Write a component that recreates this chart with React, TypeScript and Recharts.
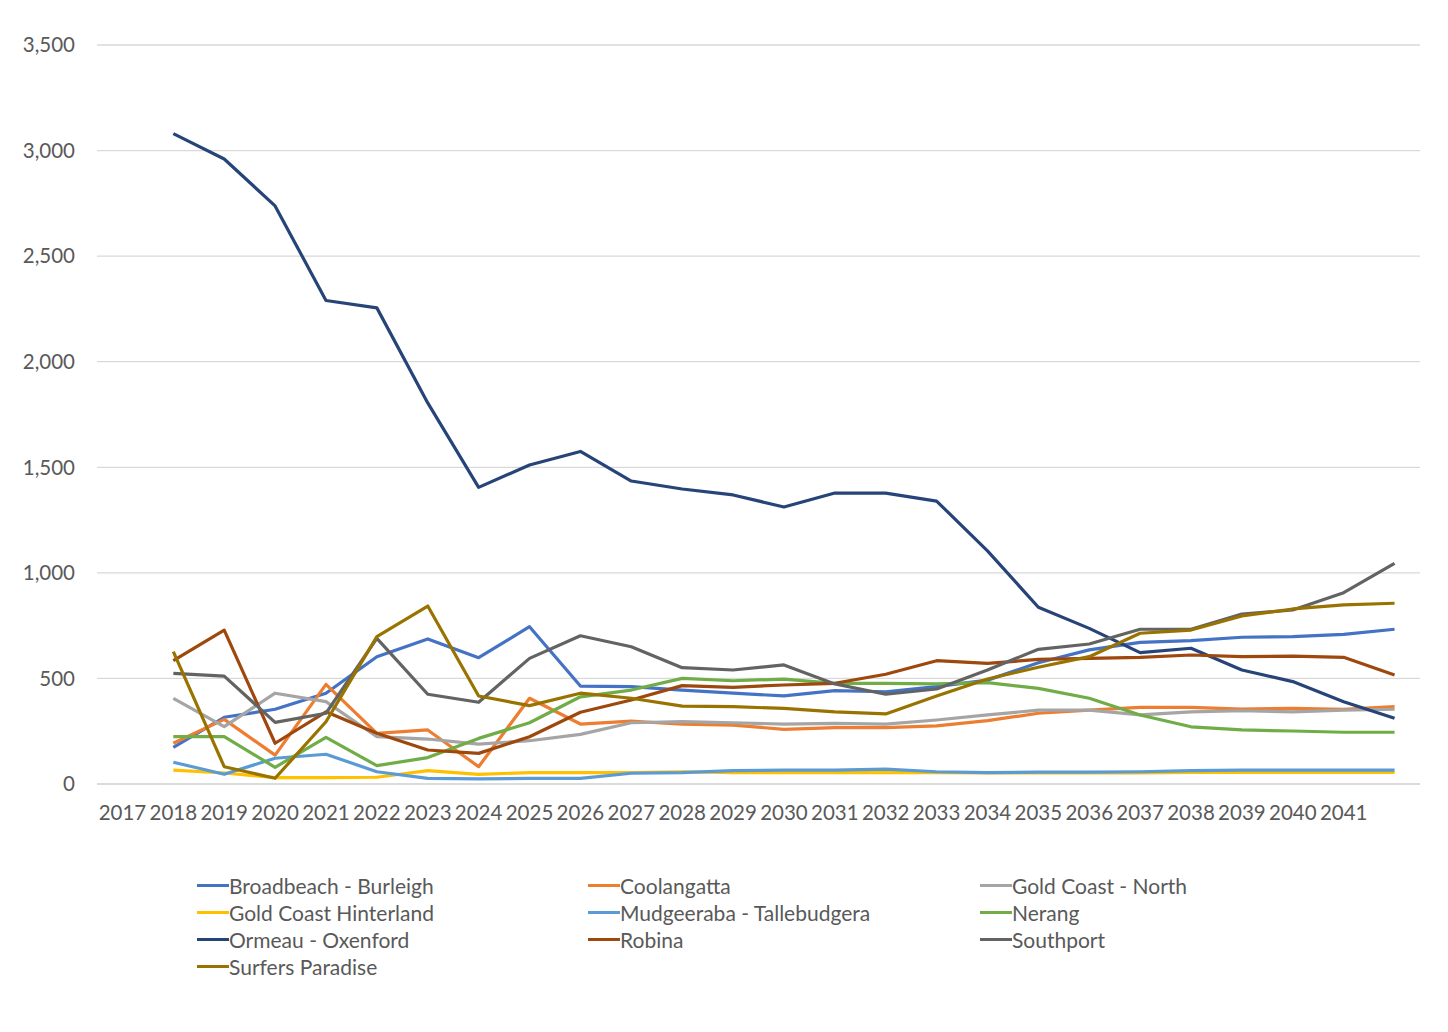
import { CartesianGrid, Line, LineChart, XAxis, YAxis } from "recharts";

// Axis labels as printed; the first value of every series sits under "2018"
// and the last one under the unlabelled slot after "2041".
const years = [
  "2017", "2018", "2019", "2020", "2021", "2022", "2023", "2024", "2025",
  "2026", "2027", "2028", "2029", "2030", "2031", "2032", "2033", "2034",
  "2035", "2036", "2037", "2038", "2039", "2040", "2041", "",
];

const yTicks = [0, 500, 1000, 1500, 2000, 2500, 3000, 3500];

const broadbeach = [174, 316, 354, 430, 603, 687, 598, 745, 464, 461, 445, 430, 417, 442, 437, 461, 492, 574, 635, 671, 679, 695, 698, 709, 733];
const coolangatta = [193, 306, 137, 472, 240, 256, 82, 406, 284, 298, 283, 279, 259, 267, 267, 275, 300, 335, 350, 363, 363, 355, 358, 354, 366];
const goldCoastNorth = [406, 272, 430, 390, 224, 213, 189, 205, 235, 290, 295, 290, 284, 287, 284, 303, 327, 350, 350, 327, 342, 347, 342, 350, 354];
const hinterland = [66, 52, 30, 30, 32, 63, 46, 54, 54, 54, 58, 54, 54, 54, 54, 54, 52, 52, 52, 52, 55, 55, 55, 55, 55];
const mudgeeraba = [103, 46, 122, 141, 58, 27, 24, 27, 27, 51, 54, 63, 66, 66, 70, 58, 54, 56, 56, 58, 63, 66, 66, 66, 66];
const nerang = [224, 224, 79, 221, 87, 125, 216, 290, 413, 445, 500, 489, 497, 477, 477, 474, 480, 453, 406, 327, 271, 256, 251, 245, 245];
const ormeau = [3080, 2960, 2738, 2290, 2255, 1805, 1405, 1511, 1575, 1435, 1397, 1369, 1312, 1378, 1378, 1340, 1104, 837, 737, 622, 643, 540, 485, 390, 311];
const robina = [584, 729, 193, 342, 240, 161, 145, 224, 340, 398, 466, 458, 469, 477, 520, 584, 571, 590, 595, 600, 611, 603, 606, 600, 516];
const southport = [524, 511, 292, 335, 690, 425, 387, 595, 702, 650, 551, 540, 564, 474, 425, 450, 540, 638, 663, 733, 733, 805, 824, 906, 1045];
const surfers = [627, 82, 27, 295, 698, 843, 417, 371, 430, 406, 369, 366, 358, 342, 332, 417, 497, 553, 603, 714, 729, 796, 829, 848, 856];

const series = [
  { key: "Broadbeach - Burleigh", values: broadbeach, color: "#4472C4" },
  { key: "Coolangatta", values: coolangatta, color: "#ED7D31" },
  { key: "Gold Coast - North", values: goldCoastNorth, color: "#A5A5A5" },
  { key: "Gold Coast Hinterland", values: hinterland, color: "#FFC000" },
  { key: "Mudgeeraba - Tallebudgera", values: mudgeeraba, color: "#5B9BD5" },
  { key: "Nerang", values: nerang, color: "#70AD47" },
  { key: "Ormeau - Oxenford", values: ormeau, color: "#264478" },
  { key: "Robina", values: robina, color: "#9E480E" },
  { key: "Southport", values: southport, color: "#636363" },
  { key: "Surfers Paradise", values: surfers, color: "#997300" },
];

const data = years.map((year, i) => {
  const row: Record<string, string | number | null> = { year };
  for (const s of series) row[s.key] = i === 0 ? null : s.values[i - 1];
  return row;
});

const FONT = "Lato, 'Open Sans', sans-serif";
const TEXT = "#595959";
const FONT_SIZE = 20.5;

function ChartLegend() {
  const cols = [197, 588, 980];
  return (
    <>
      {series.map((s, i) => (
        <div
          key={s.key}
          style={{
            position: "absolute",
            left: cols[i % 3],
            top: 885 + Math.floor(i / 3) * 27 - 13,
            height: 26,
            display: "flex",
            alignItems: "center",
            fontFamily: FONT,
            fontSize: 21,
            color: TEXT,
            whiteSpace: "nowrap",
          }}
        >
          <span
            style={{ width: 32, height: 3, background: s.color, display: "inline-block" }}
          />
          <span>{s.key}</span>
        </div>
      ))}
    </>
  );
}

export default function App() {
  return (
    <div
      style={{
        position: "absolute",
        left: 0,
        top: 0,
        width: 1448,
        height: 1032,
        background: "#fff",
      }}
    >
      <LineChart
        width={1448}
        height={1032}
        data={data}
        margin={{ top: 45, right: 28, bottom: 208, left: 0 }}
      >
        <CartesianGrid vertical={false} stroke="#D9D9D9" strokeWidth={1.3} />
        <XAxis
          dataKey="year"
          scale="band"
          interval={0}
          height={40}
          tickLine={false}
          tickMargin={15}
          axisLine={{ stroke: "#D9D9D9", strokeWidth: 1.3 }}
          tick={{ fill: TEXT, fontSize: FONT_SIZE, fontFamily: FONT }}
        />
        <YAxis
          width={97}
          domain={[0, 3500]}
          ticks={yTicks}
          tickFormatter={(v: number) => v.toLocaleString("en-US")}
          axisLine={false}
          tickLine={false}
          tickMargin={16}
          tick={{ fill: TEXT, fontSize: FONT_SIZE, fontFamily: FONT }}
        />
        {series.map((s) => (
          <Line
            key={s.key}
            dataKey={s.key}
            stroke={s.color}
            strokeWidth={3.2}
            dot={false}
            activeDot={false}
            strokeLinejoin="round"
            isAnimationActive={false}
          />
        ))}
      </LineChart>
      <ChartLegend />
    </div>
  );
}
